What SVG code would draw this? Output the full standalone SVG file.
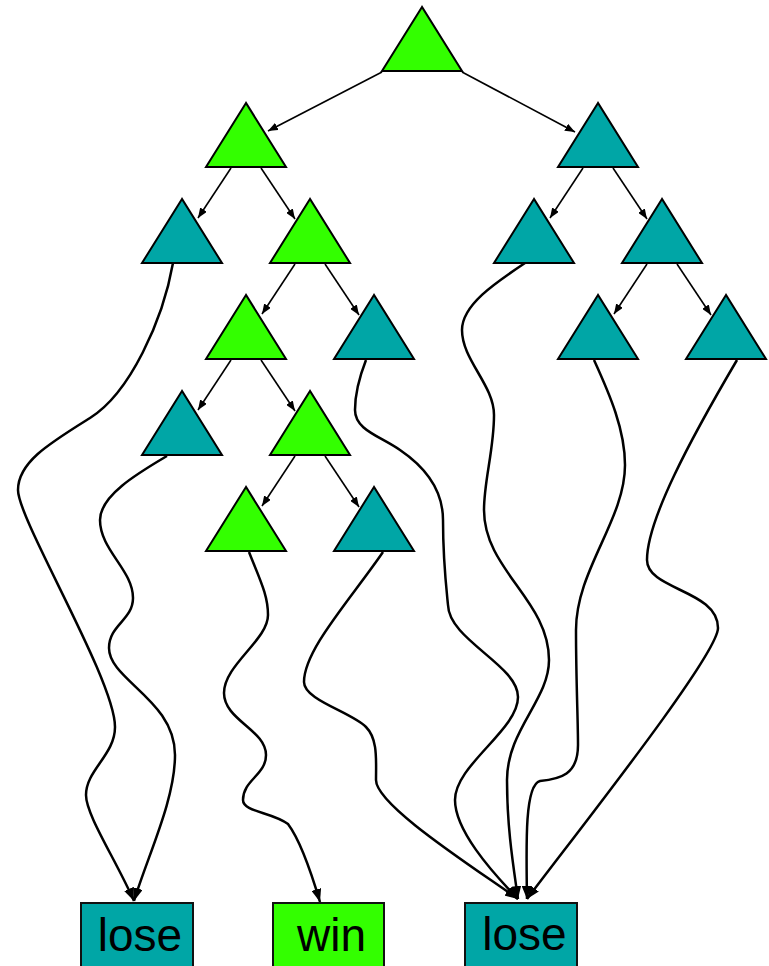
<svg xmlns="http://www.w3.org/2000/svg" width="769" height="966" viewBox="0 0 769 966">
<style>
.g{fill:#33ff00;stroke:#000;stroke-width:2;stroke-linejoin:miter}
.t{fill:#00a6a6;stroke:#000;stroke-width:2;stroke-linejoin:miter}
.bx{stroke:#111;stroke-width:2}
.e{fill:none;stroke:#000;stroke-width:1.6;marker-end:url(#sa)}
.c{fill:none;stroke:#000;stroke-width:2.5;marker-end:url(#ba)}
.lbl{font-family:"Liberation Sans",Arial,sans-serif;font-size:46px;fill:#000;text-anchor:middle}
</style>
<defs>
<marker id="sa" viewBox="0 0 10 8" refX="10" refY="4" markerWidth="10" markerHeight="8" markerUnits="userSpaceOnUse" orient="auto"><path d="M0,0 L10,4 L0,8 z" fill="#000"/></marker>
<marker id="ba" viewBox="0 0 13 10" refX="13" refY="5" markerWidth="13" markerHeight="10" markerUnits="userSpaceOnUse" orient="auto"><path d="M0,0 L13,5 L0,10 z" fill="#000"/></marker>
</defs>
<g id="connectors">
<line class="e" x1="382" y1="72" x2="268" y2="131"/>
<line class="e" x1="462" y1="72" x2="575" y2="132"/>
<line class="e" x1="231" y1="168" x2="198" y2="218"/>
<line class="e" x1="261" y1="168" x2="295" y2="219"/>
<line class="e" x1="583" y1="168" x2="550" y2="218"/>
<line class="e" x1="613" y1="168" x2="647" y2="219"/>
<line class="e" x1="295" y1="264" x2="262" y2="314"/>
<line class="e" x1="325" y1="264" x2="359" y2="315"/>
<line class="e" x1="647" y1="264" x2="614" y2="314"/>
<line class="e" x1="677" y1="264" x2="711" y2="315"/>
<line class="e" x1="231" y1="360" x2="198" y2="410"/>
<line class="e" x1="261" y1="360" x2="295" y2="411"/>
<line class="e" x1="295" y1="456" x2="262" y2="506"/>
<line class="e" x1="325" y1="456" x2="359" y2="507"/>
<path class="c" d="M173,263 C163,320 130,393 90,418 C50,443 18,462 18,490 C18,520 115,680 115,727 C115,755 86,770 86,795 C86,815 116,860 134,901"/>
<path class="c" d="M167,456 C140,472 100,495 100,520 C100,550 133,570 133,598 C133,620 109,625 109,648 C109,680 175,700 175,755 C175,800 148,855 134,901"/>
<path class="c" d="M249,552 C260,580 268,595 268,615 C268,640 224,665 224,693 C224,720 266,730 266,755 C266,775 243,780 243,800 C243,812 272,812 288,824 C300,840 312,875 320,902"/>
<path class="c" d="M383,552 C350,600 304,650 304,682 C304,700 351,712 366,727 C378,739 376,760 376,780 C376,805 470,865 518,899"/>
<path class="c" d="M366,360 C359,378 355,395 355,410 C355,430 380,436 400,450 C425,467 443,490 443,520 C443,560 446,585 448,605 C449,640 518,665 518,697 C518,730 455,765 455,800 C455,830 490,870 518,899"/>
<path class="c" d="M525,263 C495,283 462,305 462,330 C462,360 494,385 494,415 C494,450 484,480 484,510 C484,570 549,600 549,660 C549,700 507,730 507,780 C507,830 514,870 518,899"/>
<path class="c" d="M594,360 C610,395 625,430 625,465 C625,520 576,570 576,630 C576,680 578,720 578,745 C578,775 560,779 540,781 C525,785 526,840 527,899"/>
<path class="c" d="M737,360 C690,440 647,520 647,560 C647,590 718,590 718,628 C718,655 575,835 527,899"/>
</g>
<g id="n_root"><polygon class="g" points="422,7 382,71 462,71"/></g>
<g id="n_L"><polygon class="g" points="246,103 206,167 286,167"/></g>
<g id="n_R"><polygon class="t" points="598,103 558,167 638,167"/></g>
<g id="n_LL"><polygon class="t" points="182,199 142,263 222,263"/></g>
<g id="n_LR"><polygon class="g" points="310,199 270,263 350,263"/></g>
<g id="n_RL"><polygon class="t" points="534,199 494,263 574,263"/></g>
<g id="n_RR"><polygon class="t" points="662,199 622,263 702,263"/></g>
<g id="n_LRL"><polygon class="g" points="246,295 206,359 286,359"/></g>
<g id="n_LRR"><polygon class="t" points="374,295 334,359 414,359"/></g>
<g id="n_RRL"><polygon class="t" points="598,295 558,359 638,359"/></g>
<g id="n_RRR"><polygon class="t" points="726,295 686,359 766,359"/></g>
<g id="n_LRLL"><polygon class="t" points="182,391 142,455 222,455"/></g>
<g id="n_LRLR"><polygon class="g" points="310,391 270,455 350,455"/></g>
<g id="n_LRLRL"><polygon class="g" points="246,487 206,551 286,551"/></g>
<g id="n_LRLRR"><polygon class="t" points="374,487 334,551 414,551"/></g>
<g id="n_lose1"><rect class="bx" x="81" y="903" width="112" height="70" fill="#00a6a6"/><text class="lbl" x="140" y="951">lose</text></g>
<g id="n_win"><rect class="bx" x="273" y="903" width="111" height="70" fill="#33ff00"/><text class="lbl" x="331.5" y="951">win</text></g>
<g id="n_lose2"><rect class="bx" x="465" y="903" width="112" height="70" fill="#00a6a6"/><text class="lbl" x="524.5" y="950">lose</text></g>
</svg>
